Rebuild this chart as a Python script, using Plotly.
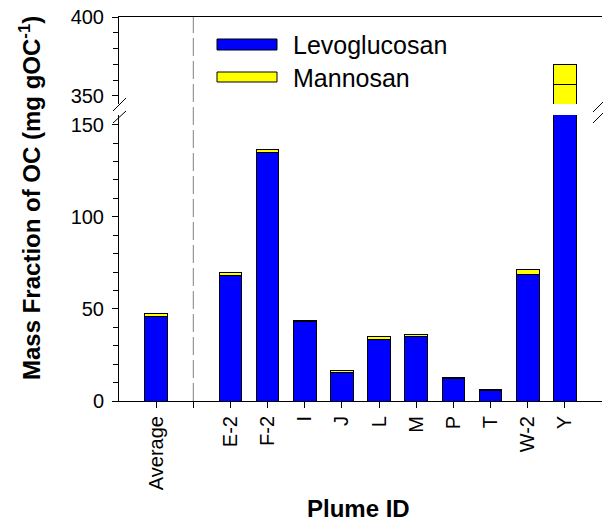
import plotly.graph_objects as go

# ---- data ----
categories = ['Average', ' ', 'E-2', 'F-2', 'I', 'J', 'L', 'M', 'P', 'T', 'W-2', 'Y']
levoglucosan = [46.0, None, 68.1, 135.1, 43.0, 15.4, 33.4, 35.2, 12.1, 5.6, 68.6, 357.0]
mannosan = [1.3, None, 1.5, 1.6, 0.9, 0.9, 1.4, 0.7, 0.6, 0.5, 2.6, 13.0]

BLUE = '#0000FF'
YELLOW = '#FFFF00'
FONT = 'Arial, Liberation Sans, sans-serif'

W, H = 603, 522
L, R, T, B = 119, 1, 17, 121
PW, PH = W - L - R, H - T - B


def px(xp):
    return (xp - L) / PW


def py(yp):
    return (H - B - yp) / PH


fig = go.Figure()
line = dict(color='black', width=1)

# lower panel
fig.add_bar(x=categories, y=levoglucosan, name='Levoglucosan', marker=dict(color=BLUE, line=line),
            width=0.61, xaxis='x', yaxis='y', showlegend=False)
fig.add_bar(x=categories, y=mannosan, name='Mannosan', marker=dict(color=YELLOW, line=line),
            width=0.61, xaxis='x', yaxis='y', showlegend=False)
# upper panel (the top segment of Y appears all yellow in the reference)
upper_levo_colors = [YELLOW if c == 'Y' else BLUE for c in categories]
fig.add_bar(x=categories, y=levoglucosan, name='Levoglucosan', marker=dict(color=upper_levo_colors, line=line),
            width=0.61, xaxis='x2', yaxis='y2', showlegend=False)
fig.add_bar(x=categories, y=mannosan, name='Mannosan', marker=dict(color=YELLOW, line=line),
            width=0.61, xaxis='x2', yaxis='y2', showlegend=False)

lower_dom = [0, py(115)]
upper_dom = [py(104), 1]

fig.update_layout(
    width=W, height=H,
    margin=dict(l=L, r=R, t=T, b=B, pad=0, autoexpand=False),
    barmode='stack',
    paper_bgcolor='white', plot_bgcolor='white',
    font=dict(family=FONT, size=20, color='black'),
    showlegend=False,
    xaxis=dict(
        type='category', categoryorder='array', categoryarray=categories,
        range=[-1, 12], domain=[0, 1], anchor='y', automargin=False,
        showline=True, linecolor='black', linewidth=1,
        ticks='outside', ticklen=6, tickcolor='black', tickwidth=1,
        tickangle=-90, tickfont=dict(size=20), showgrid=False, zeroline=False,
        tickmode='array', tickvals=categories, ticktext=categories,
    ),
    yaxis=dict(
        domain=lower_dom, range=[0, 155.2], anchor='x', automargin=False,
        showline=True, linecolor='black', linewidth=1,
        ticks='outside', ticklen=6, tickcolor='black', ticklabelstandoff=4,
        tickmode='linear', tick0=0, dtick=50,
        minor=dict(ticks='outside', dtick=10, ticklen=5, tickcolor='black', showgrid=False),
        showgrid=False, zeroline=False, tickfont=dict(size=20),
    ),
    xaxis2=dict(
        type='category', categoryorder='array', categoryarray=categories,
        range=[-1, 12], domain=[0, 1], anchor='y2', side='top', automargin=False,
        showline=True, linecolor='black', linewidth=1,
        ticks='', showticklabels=False, showgrid=False, zeroline=False,
    ),
    yaxis2=dict(
        domain=upper_dom, range=[344.9, 400], anchor='x2', automargin=False,
        showline=True, linecolor='black', linewidth=1,
        ticks='outside', ticklen=6, tickcolor='black', ticklabelstandoff=4,
        tickmode='linear', tick0=0, dtick=50,
        minor=dict(ticks='outside', dtick=10, ticklen=5, tickcolor='black', showgrid=False),
        showgrid=False, zeroline=False, tickfont=dict(size=20),
    ),
)

shapes = []
# dashed separator between Average and plumes
shapes.append(dict(type='line', xref='x', yref='paper', x0=1, x1=1, y0=0, y1=1,
                   line=dict(color='#808080', width=1, dash='18px,5px')))
# axis break marks
for (x0, y0, x1, y1) in [(113, 111, 126, 98), (113, 123, 126, 111),
                         (593, 112, 604, 101), (593, 123, 604, 112)]:
    shapes.append(dict(type='line', xref='paper', yref='paper',
                       x0=px(x0), y0=py(y0), x1=px(x1), y1=py(y1),
                       line=dict(color='black', width=1)))
# legend swatches
for (y0, y1, col) in [(39, 50, BLUE), (72, 82, YELLOW)]:
    shapes.append(dict(type='rect', xref='paper', yref='paper',
                       x0=px(217), x1=px(277), y0=py(y1), y1=py(y0),
                       fillcolor=col, line=dict(color='black', width=1)))
fig.update_layout(shapes=shapes)

ann = [
    dict(text='Levoglucosan', x=px(291), y=py(45), xref='paper', yref='paper',
         xanchor='left', yanchor='middle', showarrow=False, font=dict(size=25)),
    dict(text='Mannosan', x=px(291), y=py(78), xref='paper', yref='paper',
         xanchor='left', yanchor='middle', showarrow=False, font=dict(size=25)),
    dict(text='<b>Mass Fraction of OC (mg gOC<sup>-1</sup>)</b>', x=px(30), y=py(198),
         xref='paper', yref='paper', xanchor='center', yanchor='middle',
         textangle=-90, showarrow=False, font=dict(size=24)),
    dict(text='<b>Plume ID</b>', x=px(358), y=py(508), xref='paper', yref='paper',
         xanchor='center', yanchor='middle', showarrow=False, font=dict(size=24)),
]
fig.update_layout(annotations=ann)

fig.write_html('out.html', config={'displayModeBar': False},
               post_script="document.body.style.margin='0';document.body.style.overflow='hidden';")
